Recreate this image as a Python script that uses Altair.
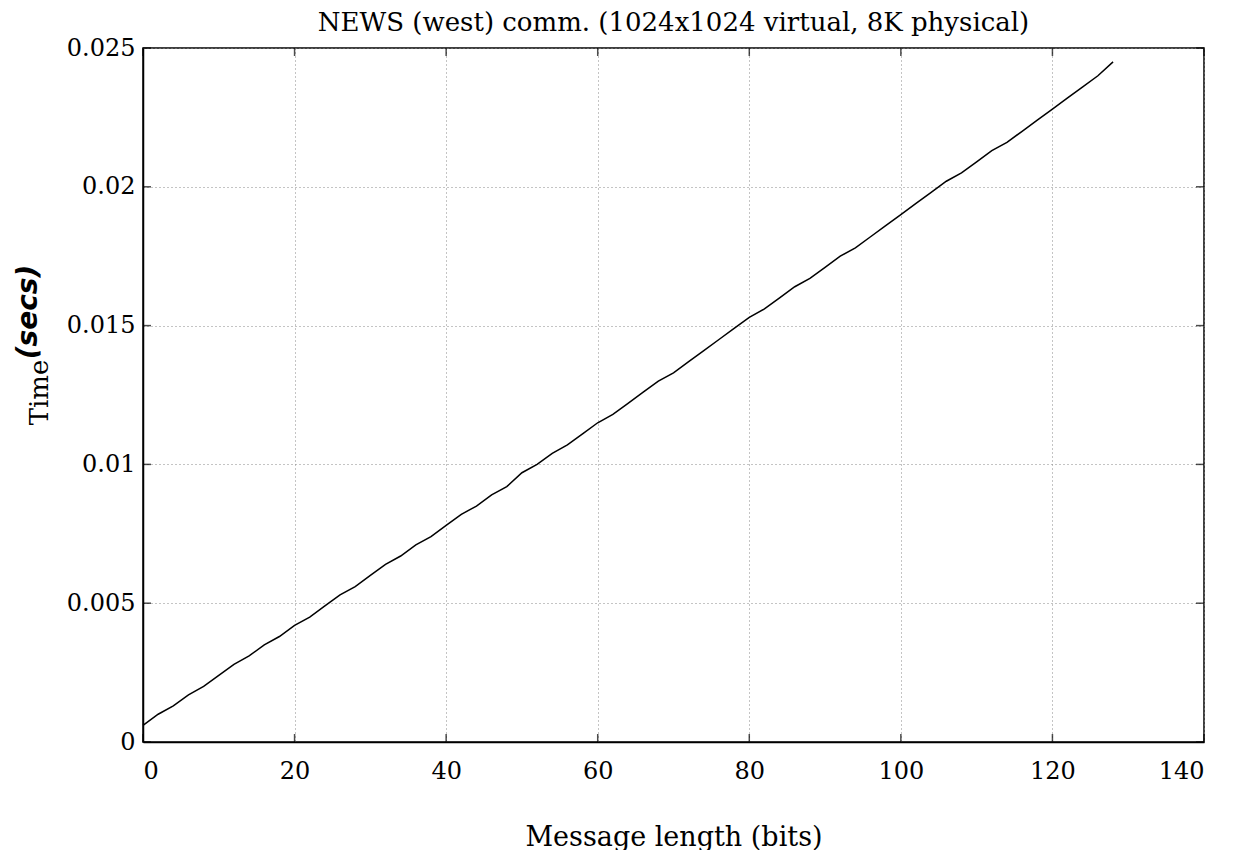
import altair as alt
import pandas as pd

bits = [0, 2, 4, 6, 8, 10, 12, 14, 16, 18, 20, 22, 24, 26, 28, 30, 32, 34, 36, 38,
        40, 42, 44, 46, 48, 50, 52, 54, 56, 58, 60, 62, 64, 66, 68, 70, 72, 74, 76,
        78, 80, 82, 84, 86, 88, 90, 92, 94, 96, 98, 100, 102, 104, 106, 108, 110,
        112, 114, 116, 118, 120, 122, 124, 126, 128]
secs = [0.0006, 0.0010, 0.0013, 0.0017, 0.0020, 0.0024, 0.0028, 0.0031, 0.0035,
        0.0038, 0.0042, 0.0045, 0.0049, 0.0053, 0.0056, 0.0060, 0.0064, 0.0067,
        0.0071, 0.0074, 0.0078, 0.0082, 0.0085, 0.0089, 0.0092, 0.0097, 0.0100,
        0.0104, 0.0107, 0.0111, 0.0115, 0.0118, 0.0122, 0.0126, 0.0130, 0.0133,
        0.0137, 0.0141, 0.0145, 0.0149, 0.0153, 0.0156, 0.0160, 0.0164, 0.0167,
        0.0171, 0.0175, 0.0178, 0.0182, 0.0186, 0.0190, 0.0194, 0.0198, 0.0202,
        0.0205, 0.0209, 0.0213, 0.0216, 0.0220, 0.0224, 0.0228, 0.0232, 0.0236,
        0.0240, 0.0245]

x_ticks = [0, 20, 40, 60, 80, 100, 120, 140]
y_ticks = [0, 0.005, 0.01, 0.015, 0.02, 0.025]

df = pd.DataFrame({"bits": bits, "secs": secs})
xt = pd.DataFrame({"v": x_ticks})
yt = pd.DataFrame({"v": y_ticks})

FONT = "DejaVu Serif"
W, H = 1061, 694

xscale = alt.Scale(domain=[0, 140], nice=False)
yscale = alt.Scale(domain=[0, 0.025], nice=False)

line = alt.Chart(df).mark_line(color="black", strokeWidth=1.5).encode(
    x=alt.X("bits:Q", scale=xscale,
            axis=alt.Axis(values=x_ticks, title="Message length (bits)",
                          titlePadding=41, labelPadding=17)),
    y=alt.Y("secs:Q", scale=yscale,
            axis=alt.Axis(values=y_ticks,
                          labelExpr="datum.value == 0 ? '0' : format(datum.value, '~g')",
                          title="Time", titleFontSize=26, titleX=-96, titleY=344,
                          titleAngle=270, titleAlign="center",
                          titleBaseline="alphabetic", labelPadding=8)),
)

xtick_bottom = alt.Chart(xt).mark_tick(orient="vertical", size=8, thickness=1.5,
                                       color="black").encode(
    x=alt.X("v:Q", scale=xscale), y=alt.value(H - 4))
xtick_top = alt.Chart(xt).mark_tick(orient="vertical", size=8, thickness=1.5,
                                    color="black").encode(
    x=alt.X("v:Q", scale=xscale), y=alt.value(4))
ytick_left = alt.Chart(yt).mark_tick(orient="horizontal", size=8, thickness=1.5,
                                     color="black").encode(
    y=alt.Y("v:Q", scale=yscale), x=alt.value(4))
ytick_right = alt.Chart(yt).mark_tick(orient="horizontal", size=8, thickness=1.5,
                                      color="black").encode(
    y=alt.Y("v:Q", scale=yscale), x=alt.value(W - 4))

secs_label = alt.Chart(pd.DataFrame({"t": ["(secs)"]})).mark_text(
    font="DejaVu Sans", fontSize=28, fontWeight="bold", fontStyle="italic",
    angle=270, align="center", baseline="alphabetic", color="black"
).encode(text="t:N", x=alt.value(-106), y=alt.value(264))

chart = alt.layer(line, xtick_bottom, xtick_top, ytick_left, ytick_right,
                  secs_label).properties(
    width=W, height=H,
    title=alt.TitleParams("NEWS (west) comm. (1024x1024 virtual, 8K physical)",
                          font=FONT, fontSize=26, fontWeight="normal",
                          color="black", offset=0),
    autosize=alt.AutoSizeParams(type="none"),
    padding={"left": 135, "top": 40, "right": 26, "bottom": 108},
).configure_view(
    stroke="black", strokeWidth=1.5
).configure_axis(
    grid=True, gridColor="#888888", gridDash=[1, 3], gridWidth=1,
    ticks=False, domain=True, domainColor="black", domainWidth=1.5,
    labelFont=FONT, labelFontSize=24, labelColor="black",
    titleFont=FONT, titleFontSize=27, titleFontWeight="normal", titleColor="black",
)

chart.save("out.html", embed_options={"renderer": "svg", "actions": False})
